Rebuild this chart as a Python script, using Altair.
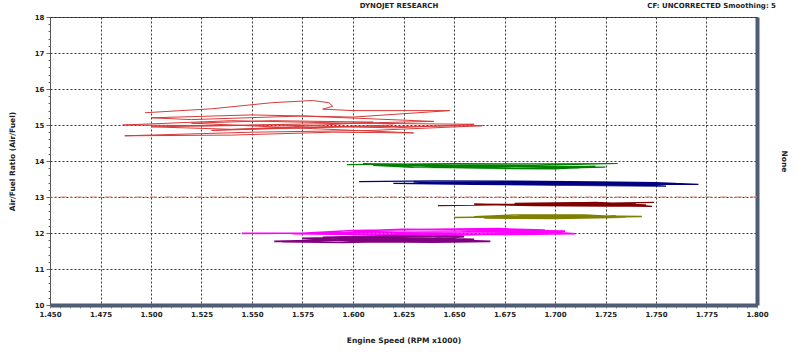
import altair as alt
import pandas as pd

# ---- data ----
red_x = [1.497, 1.530, 1.560, 1.580, 1.588, 1.590, 1.585, 1.600, 1.648, 1.600, 1.550, 1.500, 1.520,
         1.575, 1.640, 1.600, 1.540, 1.486, 1.530, 1.600, 1.660, 1.620, 1.560, 1.500, 1.540, 1.600,
         1.664, 1.610, 1.550, 1.487, 1.540, 1.590, 1.630, 1.580, 1.520, 1.560, 1.610, 1.570, 1.530,
         1.575, 1.620]
red_y = [15.34, 15.45, 15.62, 15.68, 15.62, 15.52, 15.44, 15.40, 15.40, 15.22, 15.28, 15.20, 15.15,
         15.25, 15.10, 15.05, 15.12, 15.00, 14.98, 15.05, 15.02, 14.92, 15.00, 14.95, 14.88, 14.95,
         14.98, 14.85, 14.80, 14.70, 14.72, 14.80, 14.78, 14.90, 15.05, 15.12, 15.08, 14.95, 14.85,
         14.92, 15.00]

green_x = [1.597, 1.650, 1.700, 1.731, 1.690, 1.640, 1.620, 1.670, 1.720, 1.680, 1.630, 1.610, 1.660,
           1.715, 1.700, 1.650, 1.625, 1.675, 1.725, 1.690, 1.640, 1.605, 1.650, 1.700, 1.712]
green_y = [13.90, 13.93, 13.92, 13.93, 13.88, 13.90, 13.86, 13.84, 13.85, 13.80, 13.82, 13.88, 13.86,
           13.82, 13.78, 13.80, 13.90, 13.85, 13.83, 13.79, 13.84, 13.92, 13.88, 13.84, 13.80]

navy_x = [1.603, 1.640, 1.680, 1.720, 1.750, 1.771, 1.730, 1.690, 1.650, 1.620, 1.660, 1.700, 1.745,
          1.760, 1.720, 1.680, 1.645, 1.690, 1.735, 1.755, 1.710, 1.665, 1.630, 1.675, 1.720, 1.748]
navy_y = [13.43, 13.45, 13.44, 13.42, 13.40, 13.35, 13.36, 13.38, 13.40, 13.38, 13.35, 13.33, 13.32,
          13.38, 13.40, 13.42, 13.44, 13.40, 13.36, 13.30, 13.32, 13.36, 13.42, 13.38, 13.35, 13.40]

darkred_x = [1.642, 1.670, 1.700, 1.730, 1.749, 1.720, 1.690, 1.660, 1.690, 1.725, 1.745, 1.710,
             1.680, 1.700, 1.735, 1.748, 1.715, 1.688, 1.720, 1.740]
darkred_y = [12.76, 12.78, 12.80, 12.83, 12.85, 12.82, 12.79, 12.80, 12.76, 12.75, 12.78, 12.84,
             12.82, 12.78, 12.80, 12.74, 12.76, 12.81, 12.85, 12.80]

olive_x = [1.650, 1.680, 1.710, 1.743, 1.720, 1.690, 1.665, 1.700, 1.735, 1.715, 1.680, 1.660,
           1.695, 1.730, 1.705]
olive_y = [12.43, 12.45, 12.48, 12.46, 12.44, 12.47, 12.42, 12.40, 12.44, 12.50, 12.50, 12.45,
           12.42, 12.47, 12.45]

magenta_x = [1.545, 1.580, 1.620, 1.660, 1.700, 1.710, 1.680, 1.640, 1.600, 1.625, 1.665, 1.705,
             1.690, 1.650, 1.620, 1.660, 1.695, 1.672, 1.640, 1.600, 1.570, 1.620, 1.680]
magenta_y = [11.99, 12.00, 12.02, 12.03, 12.02, 11.98, 11.96, 11.98, 12.05, 12.10, 12.08, 12.05,
             12.00, 11.94, 11.96, 12.04, 12.08, 12.12, 12.10, 12.07, 11.98, 11.95, 11.97]

purple_x = [1.561, 1.590, 1.620, 1.650, 1.668, 1.640, 1.610, 1.575, 1.600, 1.635, 1.660, 1.630,
            1.595, 1.565, 1.600, 1.640, 1.655, 1.620, 1.585, 1.610, 1.645]
purple_y = [11.77, 11.80, 11.82, 11.80, 11.77, 11.75, 11.76, 11.85, 11.88, 11.86, 11.82, 11.78,
            11.74, 11.76, 11.82, 11.84, 11.90, 11.92, 11.88, 11.80, 11.78]

series_names = ["red", "green", "navy", "darkred", "olive", "magenta", "purple"]
series_colors = ["#d93a3a", "#008000", "#000080", "#800000", "#808000", "#ff00ff", "#800080"]
series_widths = [1.0, 1.8, 1.8, 1.8, 1.8, 1.8, 1.8]
series_x = [red_x, green_x, navy_x, darkred_x, olive_x, magenta_x, purple_x]
series_y = [red_y, green_y, navy_y, darkred_y, olive_y, magenta_y, purple_y]

ref_afr = [13.0]
x_major = [1.450, 1.475, 1.500, 1.525, 1.550, 1.575, 1.600, 1.625, 1.650, 1.675,
           1.700, 1.725, 1.750, 1.775, 1.800]
y_major = [10, 11, 12, 13, 14, 15, 16, 17, 18]
title_text = ["DYNOJET RESEARCH"]
right_header = ["CF: UNCORRECTED  Smoothing: 5"]

rows = []
for name, xs, ys in zip(series_names, series_x, series_y):
    for i, (a, b) in enumerate(zip(xs, ys)):
        rows.append({"series": name, "idx": i, "x": a, "y": b})
df = pd.DataFrame(rows)

x_ticks = [round(1.45 + 0.005 * i, 3) for i in range(71)]
y_ticks = [round(10 + 0.2 * i, 1) for i in range(41)]

FONT = "DejaVu Sans"
W, H = 707, 288

x_major_test = "abs(datum.value*40 - round(datum.value*40)) < 0.001"
y_major_test = "abs(datum.value - round(datum.value)) < 0.001"

lines = alt.Chart(df).mark_line().encode(
    x=alt.X("x:Q", scale=alt.Scale(domain=[1.45, 1.8], nice=False, zero=False),
            axis=alt.Axis(values=x_ticks,
                          labelExpr=f"{x_major_test} ? format(datum.value, '.3f') : ''",
                          title="Engine Speed (RPM x1000)",
                          grid=True, gridColor="#222", gridDash=[2, 2],
                          gridOpacity={"condition": {"test": x_major_test, "value": 0.9}, "value": 0},
                          domainColor="#4e5d73", domainWidth=4,
                          tickColor="#8a97a8", tickSize=3,
                          labelFont=FONT, labelFontSize=7, labelFontWeight="bold", labelColor="#222",
                          labelPadding=2, labelFlush=False, labelOverlap=False,
                          titleFont=FONT, titleFontSize=7.5, titleFontWeight="bold", titleColor="#222",
                          titlePadding=19)),
    y=alt.Y("y:Q", scale=alt.Scale(domain=[10, 18], nice=False, zero=False),
            axis=alt.Axis(values=y_ticks,
                          labelExpr=f"{y_major_test} ? format(datum.value, 'd') : ''",
                          title="Air/Fuel Ratio (Air/Fuel)",
                          grid=True, gridColor="#222", gridDash=[2, 2],
                          gridOpacity={"condition": {"test": y_major_test, "value": 0.9}, "value": 0},
                          domainColor="#555", domainWidth=1,
                          tickColor="#666",
                          tickSize={"condition": {"test": y_major_test, "value": 4}, "value": 2},
                          labelFont=FONT, labelFontSize=7, labelFontWeight="bold", labelColor="#222",
                          labelPadding=2, labelOverlap=False,
                          titleFont=FONT, titleFontSize=7.5, titleFontWeight="bold", titleColor="#222",
                          titlePadding=18)),
    color=alt.Color("series:N", scale=alt.Scale(domain=series_names, range=series_colors), legend=None),
    strokeWidth=alt.StrokeWidth("series:N", scale=alt.Scale(domain=series_names, range=series_widths),
                                legend=None),
    detail="series:N",
    order="idx:Q",
)

ref = alt.Chart(pd.DataFrame({"y": ref_afr})).mark_rule(
    color="#d9826f", strokeWidth=1, strokeDash=[7, 3, 2, 3]
).encode(
    y=alt.Y("y:Q", scale=alt.Scale(domain=[10, 18], nice=False, zero=False),
            axis=alt.Axis(orient="right", title="None", titleAngle=90, titlePadding=22,
                          labels=False, ticks=False, grid=False,
                          domainColor="#4e5d73", domainWidth=4,
                          titleFont=FONT, titleFontSize=7.5, titleFontWeight="bold", titleColor="#222"))
)

title_mark = alt.Chart(pd.DataFrame({"t": title_text})).mark_text(
    font=FONT, fontSize=7, fontWeight="bold", color="#222", align="center", baseline="middle"
).encode(text="t:N", x=alt.value(349), y=alt.value(-11))

right_mark = alt.Chart(pd.DataFrame({"t": right_header})).mark_text(
    font=FONT, fontSize=7, fontWeight="bold", color="#222", align="right", baseline="middle"
).encode(text="t:N", x=alt.value(W + 19), y=alt.value(-11))

chart = alt.layer(lines, ref, title_mark, right_mark).resolve_axis(y="independent").properties(
    width=W, height=H,
    autosize=alt.AutoSizeParams(type="none"),
    padding={"left": 50, "top": 17, "right": 43, "bottom": 47},
    background="white",
).configure_view(stroke="#555", strokeWidth=1)

chart.save("out.html", embed_options={"renderer": "svg", "actions": False})
